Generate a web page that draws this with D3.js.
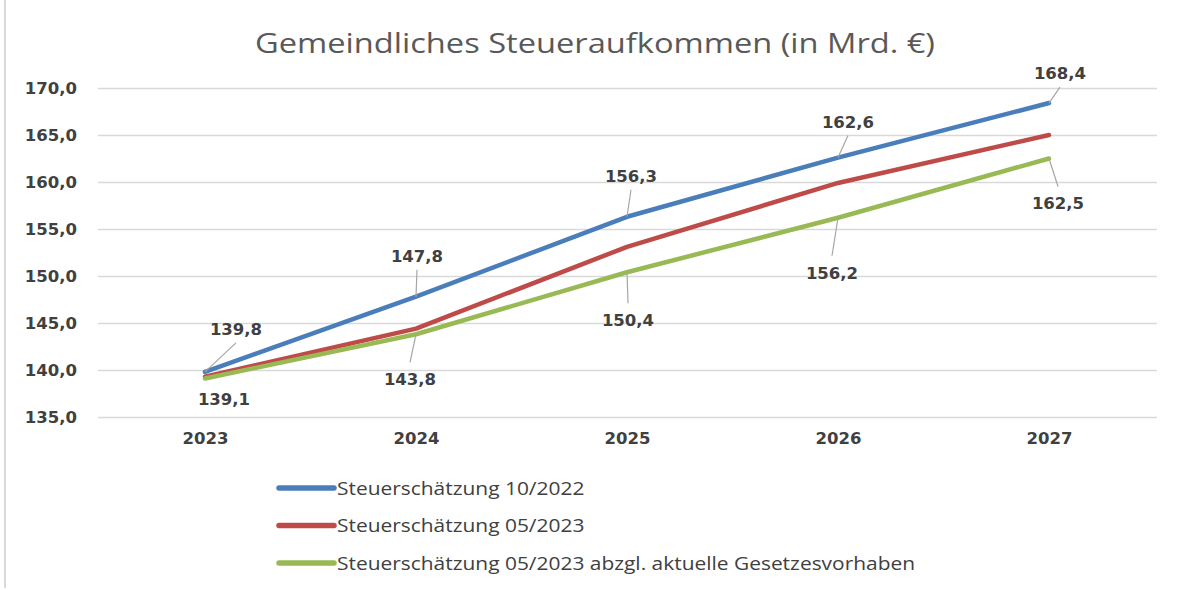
<!DOCTYPE html>
<html>
<head>
<meta charset="utf-8">
<script src="https://cdn.jsdelivr.net/npm/d3@7"></script>
<style>
  html, body { margin: 0; padding: 0; background: #fff; }
  svg { display: block; }
</style>
</head>
<body>
<svg id="chart" width="1179" height="590"></svg>
<script>
// ---- data ----
const years = ["2023", "2024", "2025", "2026", "2027"];
const seriesNames = [
  "Steuerschätzung 10/2022",
  "Steuerschätzung 05/2023",
  "Steuerschätzung 05/2023 abzgl. aktuelle Gesetzesvorhaben"
];
const blueValues  = [139.8, 147.8, 156.3, 162.6, 168.4];
const redValues   = [139.3, 144.4, 153.1, 159.9, 165.0];
const greenValues = [139.1, 143.8, 150.4, 156.2, 162.5];
const yTicks = [135, 140, 145, 150, 155, 160, 165, 170];
const titleText = "Gemeindliches Steueraufkommen (in Mrd. €)";

// ---- styling / layout config ----
const colors = ["#4a7ebb", "#be4b48", "#98b954"];
// label offsets (label centre relative to point), per series that shows labels
const blueLabelOffsets  = [[31, -43], [1, -41], [4, -41], [10, -36], [11, -30]];
const greenLabelOffsets = [[19, 21], [-6, 45], [1, 48], [-6, 55], [9, 45]];

const svg = d3.select("#chart");
const fmt = v => d3.format(".1f")(v).replace(".", ",");

const x = d3.scalePoint().domain(years).range([205, 1049]);
const y = d3.scaleLinear().domain([135, 170]).range([417, 88]);

// frame line at left
svg.append("line").attr("x1", 5).attr("x2", 5).attr("y1", 0).attr("y2", 588)
  .attr("stroke", "#d9d9d9").attr("stroke-width", 2);

// title
svg.append("text").attr("x", 595).attr("y", 53).attr("text-anchor", "middle")
  .attr("font-family", "Open Sans").attr("font-size", 28).attr("fill", "#595959")
  .attr("textLength", 680).attr("lengthAdjust", "spacingAndGlyphs")
  .text(titleText);

// y axis with gridlines
const yAxis = d3.axisLeft(y).tickValues(yTicks).tickSize(-(1157 - 98)).tickPadding(21)
  .tickFormat(fmt);
const gy = svg.append("g").attr("transform", "translate(98,0)").call(yAxis);
gy.select(".domain").remove();
gy.selectAll(".tick line").attr("stroke", "#d9d9d9").attr("stroke-width", 1.5);
gy.selectAll(".tick text").attr("font-family", "DejaVu Sans").attr("font-weight", "bold")
  .attr("font-size", 16.5).attr("fill", "#404040").attr("dy", "0.36em");

// x axis
const xAxis = d3.axisBottom(x).tickSize(0).tickPadding(0);
const gx = svg.append("g").attr("transform", "translate(0,438)").call(xAxis);
gx.select(".domain").remove();
gx.selectAll(".tick text").attr("font-family", "DejaVu Sans").attr("font-weight", "bold")
  .attr("font-size", 16.5).attr("fill", "#404040").attr("dy", "0.36em");

// lines
const allSeries = [blueValues, redValues, greenValues];
const line = d3.line().x((d, i) => x(years[i])).y(d => y(d));
allSeries.forEach((vals, si) => {
  svg.append("path").datum(vals).attr("d", line).attr("fill", "none")
    .attr("stroke", colors[si]).attr("stroke-width", 4.5)
    .attr("stroke-linejoin", "round").attr("stroke-linecap", "round");
});

// data labels with leader lines
function drawLabels(vals, offsets, above) {
  vals.forEach((v, i) => {
    const px = x(years[i]), py = y(v);
    const lx = px + offsets[i][0], ly = py + offsets[i][1];
    const dist = Math.hypot(offsets[i][0], offsets[i][1]);
    if (dist > 30) {
      const ey = above ? ly + 14 : ly - 17;
      svg.append("line").attr("x1", px).attr("y1", py).attr("x2", lx).attr("y2", ey)
        .attr("stroke", "#a6a6a6").attr("stroke-width", 1.2);
    }
    svg.append("text").attr("x", lx).attr("y", ly).attr("dy", "0.36em")
      .attr("text-anchor", "middle").attr("font-family", "DejaVu Sans")
      .attr("font-weight", "bold").attr("font-size", 16.5).attr("fill", "#404040")
      .text(fmt(v));
  });
}
drawLabels(blueValues, blueLabelOffsets, true);
drawLabels(greenValues, greenLabelOffsets, false);

// legend
const legendY = [488, 525.5, 563];
const legendTexts = [];
seriesNames.forEach((name, si) => {
  const ly = legendY[si];
  svg.append("line").attr("x1", 279).attr("x2", 334).attr("y1", ly).attr("y2", ly)
    .attr("stroke", colors[si]).attr("stroke-width", 5.5).attr("stroke-linecap", "round");
  legendTexts.push(svg.append("text").attr("x", 337).attr("y", ly).attr("dy", "0.36em")
    .attr("font-family", "Open Sans").attr("font-size", 19).attr("fill", "#404040")
    .text(name));
});
// stretch legend text horizontally like the reference (longest entry ≈ 578px)
const longest = legendTexts[2].node().getComputedTextLength();
const k = 578 / longest;
legendTexts.forEach(t => {
  const w = t.node().getComputedTextLength();
  t.attr("textLength", w * k).attr("lengthAdjust", "spacingAndGlyphs");
});
</script>
</body>
</html>
